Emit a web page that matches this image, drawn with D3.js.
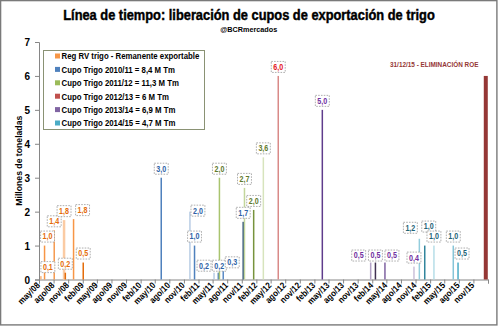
<!DOCTYPE html>
<html><head><meta charset="utf-8">
<script src="https://cdn.jsdelivr.net/npm/d3@7"></script>
<style>
body{margin:0;background:#fff}
svg{display:block}
text{font-family:"Liberation Sans",Arial,Helvetica,sans-serif;font-weight:bold}
</style>
</head><body>
<svg id="c" width="499" height="326"></svg>
<script>
// ---------------- DATA ----------------
const title = "Línea de tiempo: liberación de cupos de exportación de trigo";
const subtitle = "@BCRmercados";
const yTitle = "Millones de toneladas";
const roeNote = "31/12/15 - ELIMINACIÓN ROE";

const seriesNames = [
  "Reg RV trigo - Remanente exportable",
  "Cupo Trigo 2010/11 = 8,4 M Tm",
  "Cupo Trigo 2011/12 = 11,3 M Tm",
  "Cupo Trigo 2012/13 = 6 M Tm",
  "Cupo Trigo 2013/14 = 6,9 M Tm",
  "Cupo Trigo 2014/15 = 4,7 M Tm"
];

const xTickLabels = [
  "may/08","ago/08","nov/08","feb/09","may/09","ago/09","nov/09","feb/10",
  "may/10","ago/10","nov/10","feb/11","may/11","ago/11","nov/11","feb/12",
  "may/12","ago/12","nov/12","feb/13","may/13","ago/13","nov/13","feb/14",
  "may/14","ago/14","nov/14","feb/15","may/15","ago/15","nov/15"
];
const yTickValues = [0,1,2,3,4,5,6,7];

// Reg RV trigo - Remanente exportable
const regDates  = ["2008-05-13","2008-06-05","2008-08-05","2008-10-06","2008-10-14","2008-12-05","2009-02-04"];
const regValues = [0.1, 1.0, 1.45, 1.75, 0.2, 1.78, 0.5];
const regLabels = ["0,1","1,0","1,4","1,8","0,2","1,8","0,5"];

// Cupo 2010/11
const c1011Dates  = ["2010-06-11","2010-12-09","2011-01-07","2011-05-10","2011-06-06","2011-07-07","2011-11-10"];
const c1011Values = [3.0, 2.0, 1.0, 0.2, 0.2, 0.3, 1.7];
const c1011Labels = ["3,0","2,0","1,0","0,2","0,2","0,3","1,7"];

// Cupo 2011/12
const c1112Dates  = ["2011-06-13","2011-11-18","2012-01-15","2012-03-16"];
const c1112Values = [3.0, 2.7, 2.05, 3.6];
const c1112Labels = ["2,0","2,7","2,0","3,6"];

// Cupo 2012/13
const c1213Dates  = ["2012-06-18"];
const c1213Values = [6.0];
const c1213Labels = ["6,0"];

// Cupo 2013/14
const c1314Dates  = ["2013-03-23","2014-01-22","2014-02-21","2014-04-22","2014-10-22"];
const c1314Values = [5.0, 0.5, 0.5, 0.5, 0.38];
const c1314Labels = ["5,0","0,5","0,5","0,5","0,4"];

// Cupo 2014/15
const c1415Dates  = ["2014-11-25","2014-12-29","2015-02-25","2015-06-27","2015-07-27"];
const c1415Values = [1.2, 1.0, 1.0, 1.0, 0.5];
const c1415Labels = ["1,2","1,0","1,0","1,0","0,5"];

// Eliminación ROE
const roeDate = "2016-01-18";
const roeValue = 6.0;

// ---------------- STYLES / LAYOUT ----------------
const legendColors = ["#F79646","#4F81BD","#9BBB59","#C0504D","#8064A2","#4BACC6"];
const labelColors  = ["#E46C0A","#2F62A6","#5F7A2C","#E3141B","#7030A0","#1F6477"];
const barShades = [
  ["#F9B47A","#F79646","#F59A50","#FBCBA3","#E46C0A","#F79646","#E46C0A"],
  ["#4F81BD","#B9CDE5","#4F81BD","#B9CDE5","#4F81BD","#5B8BC6","#2F5277"],
  ["#A9C46E","#C3D69B","#77933C","#D7E4BD"],
  ["#D98A88"],
  ["#5F3C8C","#B3A2C7","#403152","#8064A2","#CCC1DA"],
  ["#93CDDD","#31859C","#B7DEE8","#86C5D8","#4BACC6"]
];
const barWidths = {"0-3":2.5};
const labelNudge = {
  "0-0":[7,0],"0-1":[3,0],"0-5":[9,0],
  "1-1":[8,8],"1-3":[-10,2],"1-4":[1,2],"1-5":[9,2],
  "4-1":[-12,2],"4-2":[0,2],"4-3":[7,2],
  "5-0":[-9,-2],"5-1":[4,-10],"5-4":[4,0]
};

const parse = d3.timeParse("%Y-%m-%d");
const allSeries = [
  [regDates, regValues, regLabels],
  [c1011Dates, c1011Values, c1011Labels],
  [c1112Dates, c1112Values, c1112Labels],
  [c1213Dates, c1213Values, c1213Labels],
  [c1314Dates, c1314Values, c1314Labels],
  [c1415Dates, c1415Values, c1415Labels]
];
const bars = [];
allSeries.forEach((s, si) => {
  s[0].forEach((d, i) => bars.push({si, i, date: parse(d), value: s[1][i], label: s[2][i]}));
});

const monthIdx = {feb:1, may:4, ago:7, nov:10};
const tickDates = xTickLabels.map(l => { const [m, y] = l.split("/"); return new Date(2000 + +y, monthIdx[m], 1); });
const xEnd = new Date(2016, 1, 1);

const svg = d3.select("#c");
const x = d3.scaleTime().domain([tickDates[0], xEnd]).range([39, 488]);
const y = d3.scaleLinear().domain([0, 7]).range([279.5, 42]);

function squeeze(sel, k){
  sel.each(function(){
    const w = this.getComputedTextLength();
    d3.select(this).attr("textLength", w * k).attr("lengthAdjust", "spacingAndGlyphs");
  });
}

svg.append("rect").attr("width", 499).attr("height", 326).attr("fill", "#fff");
svg.append("rect").attr("x", 0.6).attr("y", 0.6).attr("width", 496.3).attr("height", 324.3)
  .attr("fill", "none").attr("stroke", "#7a7a7a").attr("stroke-width", 1.4);

// Title (horizontally condensed with a scale transform)
const tg = svg.append("g");
const tt = tg.append("text").attr("x", 0).attr("y", 0).attr("text-anchor", "middle")
  .attr("font-size", 15.5).attr("fill", "#000").attr("stroke", "#000").attr("stroke-width", 0.45)
  .text(title);
const tw = tt.node().getComputedTextLength();
tg.attr("transform", `translate(249,20.3) scale(${372 / tw},1)`);

svg.append("text").attr("x", 248.7).attr("y", 31.7).attr("text-anchor", "middle")
  .attr("font-size", 8).attr("fill", "#000").text(subtitle)
  .attr("textLength", 57).attr("lengthAdjust", "spacingAndGlyphs");

// Axes
const axisColor = "#868686";
const yAxis = svg.append("g").attr("transform", "translate(39,0)")
  .call(d3.axisLeft(y).tickValues(yTickValues).tickSize(4).tickFormat(d3.format("d")));
yAxis.select(".domain").attr("stroke", axisColor);
yAxis.selectAll(".tick line").attr("stroke", axisColor);
yAxis.selectAll(".tick text").attr("font-size", 10).attr("font-family", null).attr("fill", "#000")
  .attr("x", -9).attr("dy", "0.35em");

const xAxis = svg.append("g").attr("transform", "translate(0,279.5)")
  .call(d3.axisBottom(x).tickValues(tickDates.concat([xEnd])).tickSize(4).tickFormat(""));
xAxis.select(".domain").attr("stroke", axisColor);
xAxis.selectAll(".tick line").attr("stroke", axisColor);
xAxis.selectAll(".tick text").remove();
const xl = svg.append("g").selectAll("text").data(tickDates).join("text")
  .attr("transform", (d) => `translate(${x(d) + 1.5},286) rotate(-45)`)
  .attr("text-anchor", "end").attr("font-size", 9).attr("fill", "#000")
  .text((d, i) => xTickLabels[i]);
squeeze(xl, 0.88);

// Y title
svg.append("text").attr("transform", "translate(21.5,160.7) rotate(-90)")
  .attr("text-anchor", "middle").attr("font-size", 9.5).attr("fill", "#000").text(yTitle)
  .attr("textLength", 90).attr("lengthAdjust", "spacingAndGlyphs");

// Bars
svg.append("g").selectAll("rect").data(bars).join("rect")
  .attr("x", d => x(d.date) - (barWidths[d.si + "-" + d.i] || 1.5) / 2)
  .attr("width", d => barWidths[d.si + "-" + d.i] || 1.5)
  .attr("y", d => y(d.value))
  .attr("height", d => y(0) - y(d.value))
  .attr("fill", d => barShades[d.si][d.i]);

// ROE bar
svg.append("rect").attr("x", x(parse(roeDate)) - 2).attr("width", 4)
  .attr("y", y(roeValue)).attr("height", y(0) - y(roeValue)).attr("fill", "#953735");
svg.append("g").attr("transform", "translate(390,66.5) scale(0.8,1)")
  .append("text").attr("x", 0).attr("y", 0).attr("font-size", 8).attr("fill", "#953735")
  .text(roeNote);

// Data labels
const lg = svg.append("g");
bars.forEach(d => {
  const n = labelNudge[d.si + "-" + d.i] || [0, 0];
  const cx = x(d.date) + n[0];
  const bottom = y(d.value) - 3.5 + n[1];
  const g = lg.append("g");
  const r = g.append("rect");
  const t = g.append("text").attr("x", cx).attr("y", bottom - 2.6).attr("text-anchor", "middle")
    .attr("font-size", 8.3).attr("fill", labelColors[d.si]).text(d.label);
  squeeze(t, 0.86);
  const w = +t.attr("textLength") + 4;
  r.attr("x", cx - w / 2).attr("y", bottom - 11).attr("width", w).attr("height", 11)
    .attr("fill", "#fff").attr("stroke", "#9a9a9a").attr("stroke-width", 0.8)
    .attr("stroke-dasharray", "1.6,1.2");
});

// Legend
const leg = svg.append("g");
leg.append("rect").attr("x", 43.5).attr("y", 50.5).attr("width", 161).attr("height", 79)
  .attr("fill", "#fff").attr("stroke", "#8a9274").attr("stroke-width", 1);
seriesNames.forEach((nm, i) => {
  const cy = 56 + i * 13.4;
  leg.append("rect").attr("x", 55).attr("y", cy - 2.5).attr("width", 5).attr("height", 5)
    .attr("fill", legendColors[i]);
  const t = leg.append("text").attr("x", 61.5).attr("y", cy + 3.3).attr("font-size", 9.3)
    .attr("fill", "#000").text(nm);
  squeeze(t, 0.84);
});
</script>
</body></html>
